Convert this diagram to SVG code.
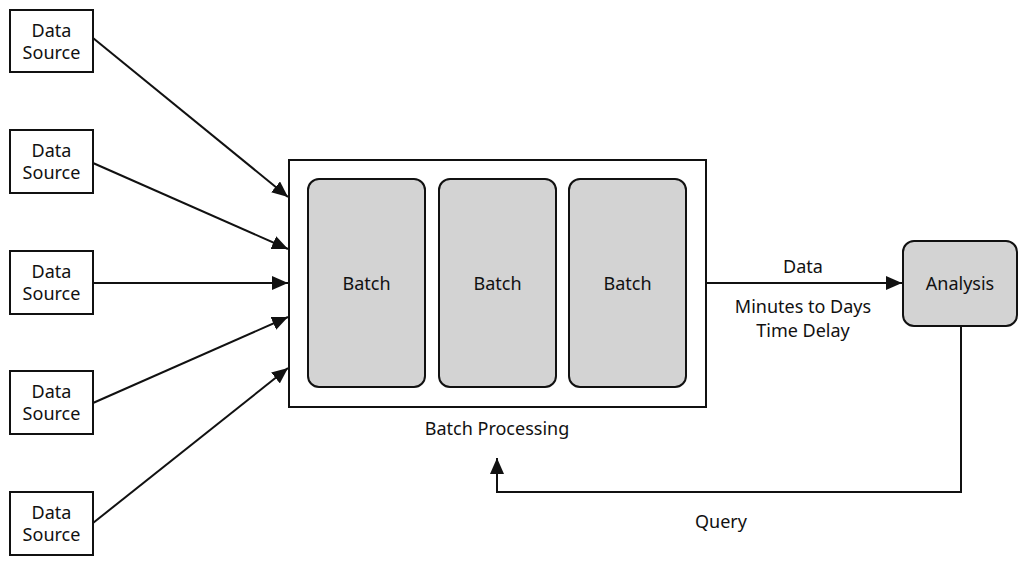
<svg xmlns="http://www.w3.org/2000/svg" width="1026" height="562" viewBox="0 0 1026 562">
<style>
text{font-family:"Noto Sans","Liberation Sans",sans-serif;font-size:18px;fill:#111;text-anchor:middle;dominant-baseline:central}
.src{fill:#fff;stroke:#111;stroke-width:2}
.batch{fill:#d3d3d3;stroke:#111;stroke-width:2}
.con{fill:none;stroke:#111;stroke-width:2}
</style>
<defs>
<marker id="ah" viewBox="0 0 16 14" refX="16" refY="7" markerWidth="16" markerHeight="14" markerUnits="userSpaceOnUse" orient="auto">
<path d="M0,0 L16,7 L0,14 Z" fill="#111"/>
</marker>
</defs>
<rect width="1026" height="562" fill="#fff"/>
<g id="connectors">
<line class="con" x1="93" y1="38" x2="288" y2="197" marker-end="url(#ah)"/>
<line class="con" x1="93" y1="163" x2="288" y2="249" marker-end="url(#ah)"/>
<line class="con" x1="93" y1="283" x2="288" y2="283" marker-end="url(#ah)"/>
<line class="con" x1="93" y1="403" x2="288" y2="317" marker-end="url(#ah)"/>
<line class="con" x1="93" y1="523" x2="288" y2="368" marker-end="url(#ah)"/>
<line class="con" x1="706" y1="283" x2="902" y2="283" marker-end="url(#ah)"/>
<polyline class="con" points="961,327 961,492 497,492 497,458" marker-end="url(#ah)"/>
<text x="803" y="266">Data</text>
<text x="803" y="306">Minutes to Days</text>
<text x="803" y="330">Time Delay</text>
<text x="721" y="521">Query</text>
</g>
<g id="src1"><rect class="src" x="10" y="10" width="83" height="62"/><text x="51.5" y="30">Data</text><text x="51.5" y="52">Source</text></g>
<g id="src2"><rect class="src" x="10" y="130" width="83" height="63"/><text x="51.5" y="150">Data</text><text x="51.5" y="172">Source</text></g>
<g id="src3"><rect class="src" x="10" y="251" width="83" height="63"/><text x="51.5" y="271">Data</text><text x="51.5" y="293">Source</text></g>
<g id="src4"><rect class="src" x="10" y="371" width="83" height="63"/><text x="51.5" y="391">Data</text><text x="51.5" y="413">Source</text></g>
<g id="src5"><rect class="src" x="10" y="492" width="83" height="63"/><text x="51.5" y="512">Data</text><text x="51.5" y="534">Source</text></g>
<g id="batchProcessing">
<rect class="src" x="289" y="160" width="417" height="247"/>
<text x="497" y="428">Batch Processing</text>
</g>
<g id="batch1"><rect class="batch" x="308" y="179" width="117" height="208" rx="11"/><text x="366.5" y="283">Batch</text></g>
<g id="batch2"><rect class="batch" x="439" y="179" width="117" height="208" rx="11"/><text x="497.5" y="283">Batch</text></g>
<g id="batch3"><rect class="batch" x="569" y="179" width="117" height="208" rx="11"/><text x="627.5" y="283">Batch</text></g>
<g id="analysis"><rect class="batch" x="903" y="241" width="114" height="85" rx="11"/><text x="960" y="283">Analysis</text></g>
</svg>
